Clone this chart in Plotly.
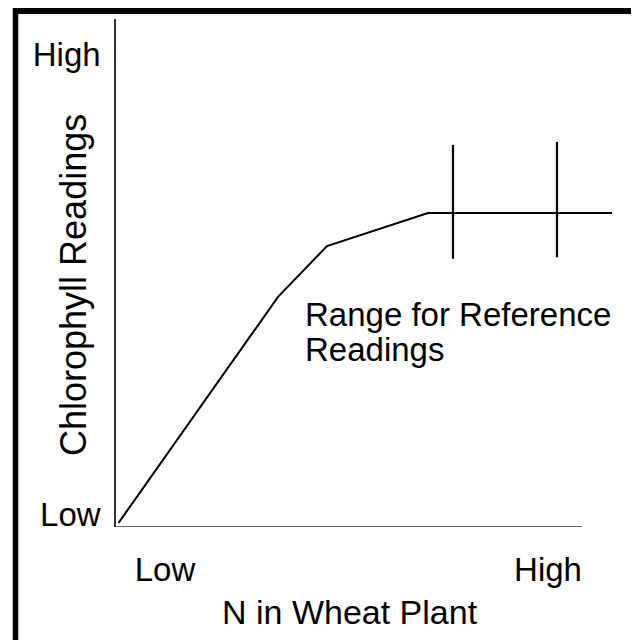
import plotly.graph_objects as go

# ---- data (schematic) ----
curve_x = [0.05, 3.24, 4.22, 6.24, 9.92]
curve_y = [0.08, 4.53, 5.53, 6.18, 6.18]

ref_x = [6.74, 8.82]
ref_y_bottom = [5.28, 5.31]
ref_y_top = [7.52, 7.58]

x_tick_vals = [0.98, 8.64]
x_tick_text = ["Low", "High"]
y_tick_vals = [0.24, 9.31]
y_tick_text = ["Low", "High"]

x_title = "N in Wheat Plant"
y_title = "Chlorophyll Readings"
range_label_lines = ["Range for Reference", "Readings"]
range_label_px_y = [314, 349]

FONT = "Liberation Sans, Arial, Helvetica, sans-serif"

FIG_W, FIG_H = 639, 640

# plot area on screen: left 116, top 19, width 500, height 508
def px(X):
    return (X - 116) / 500

def py(Y):
    return (527 - Y) / 508

fig = go.Figure()

fig.add_trace(go.Scatter(
    x=curve_x, y=curve_y, mode="lines",
    line=dict(color="black", width=2), hoverinfo="skip", showlegend=False,
))

for xv, yb, yt in zip(ref_x, ref_y_bottom, ref_y_top):
    fig.add_trace(go.Scatter(
        x=[xv, xv], y=[yb, yt], mode="lines",
        line=dict(color="black", width=2.2), hoverinfo="skip", showlegend=False,
    ))

# x-axis line (shorter than plot area)
fig.add_shape(type="line", xref="x", yref="y", x0=0, x1=9.32, y0=0, y1=0,
              line=dict(color="#333", width=1.6))

# outer black frame: top and left edges visible in the picture
fig.add_shape(type="line", xref="paper", yref="paper",
              x0=px(13), x1=px(639), y0=py(11), y1=py(11),
              line=dict(color="black", width=6))
fig.add_shape(type="line", xref="paper", yref="paper",
              x0=px(15.5), x1=px(15.5), y0=py(8), y1=py(640),
              line=dict(color="black", width=5.5))

fig.update_layout(
    width=FIG_W, height=FIG_H,
    margin=dict(l=108, r=FIG_W - 108 - 500, t=11, b=FIG_H - 11 - 508),
    paper_bgcolor="white", plot_bgcolor="white",
    font=dict(family=FONT, color="black", size=33),
    showlegend=False,
    xaxis=dict(range=[0, 10], showgrid=False, zeroline=False, showline=False,
               tickvals=x_tick_vals, ticktext=x_tick_text, ticks="",
               ticklabelstandoff=20, tickfont=dict(size=33, family=FONT, color="black"),
               fixedrange=True),
    yaxis=dict(range=[0, 10], showgrid=False, zeroline=False, showline=True,
               linecolor="#333", linewidth=1.6,
               tickvals=y_tick_vals, ticktext=y_tick_text, ticks="",
               ticklabelstandoff=7, tickfont=dict(size=33, family=FONT, color="black"),
               fixedrange=True),
)

# Range label, one annotation per line
for line_text, yy in zip(range_label_lines, range_label_px_y):
    fig.add_annotation(
        x=px(303), y=py(yy), xref="paper", yref="paper",
        xanchor="left", yanchor="middle", align="left", showarrow=False,
        text=line_text, font=dict(size=33, family=FONT, color="black"),
    )
# axis titles
fig.add_annotation(
    x=px(350), y=py(612), xref="paper", yref="paper",
    xanchor="center", yanchor="middle", showarrow=False,
    text=x_title, font=dict(size=34, family=FONT, color="black"),
)
fig.add_annotation(
    x=px(73), y=py(285), xref="paper", yref="paper",
    xanchor="center", yanchor="middle", showarrow=False, textangle=-90,
    text=y_title, font=dict(size=36, family=FONT, color="black"),
)

fig.write_html("out.html")
